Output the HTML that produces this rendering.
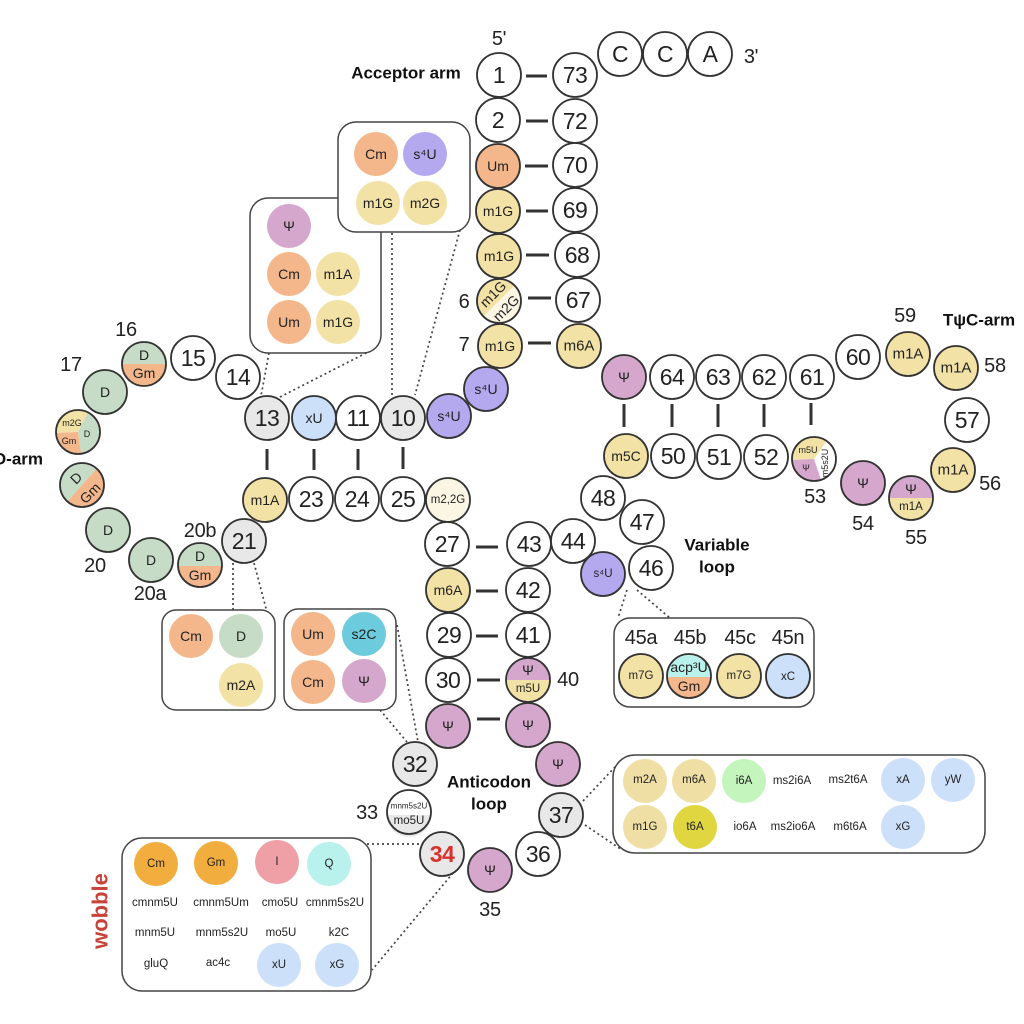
<!DOCTYPE html>
<html><head><meta charset="utf-8"><style>
html,body{margin:0;padding:0;background:#fff}
svg{display:block}
text{font-family:"Liberation Sans",sans-serif;fill:#222;text-anchor:middle;dominant-baseline:central}
.n{stroke:#333;stroke-width:1.8;fill:#fff}
.o{stroke:#333;stroke-width:1.8;fill:none}
.y{fill:#f3e2a5}.r{fill:#f4b78c}.g{fill:#c6dcc6}.p{fill:#d5a7cc}.u{fill:#b4a9ef}.e{fill:#e8e8e8}.b{fill:#cde0fa}.c{fill:#fbf6e4}
.t{font-size:23px;letter-spacing:-0.5px}.l{font-size:20px;letter-spacing:-0.3px}.m{font-size:14px}.s{font-size:11.5px}.x{font-size:9px}
.h{font-size:17px;font-weight:bold;fill:#111}
.box{fill:#fff;stroke:#444;stroke-width:1.5}
.d{stroke:#444;stroke-width:1.7;stroke-dasharray:2 3;fill:none}
.k{stroke:#333;stroke-width:3;fill:none}
</style></head><body>
<svg width="1024" height="1024" viewBox="0 0 1024 1024" xmlns="http://www.w3.org/2000/svg">
<rect width="1024" height="1024" fill="#fff"/>

<!-- dotted connectors -->
<path class="d" d="M269 353L261 396M280 397L368 352M392 233L392 396M460 230L415 395M233 563L233 610M254 563L267 612M397 625L418 742M380 710L407 742M627 590L618 618M637 590L670 618M583 801L615 767M585 825L622 850M367 844L422 844M453 873L372 970"/>

<!-- base pair lines -->
<path class="k" d="M526 76H547M526 121H548M525 166H548M526 211H548M526 255H549M528 298H551M528 343H551M267 449V470M314 449V470M358 449V470M403 447V469M476 547H498M476 591H498M476 636H498M477 680H500M477 719H500M624 404V427M672 404V427M718 404V427M764 404V427M811 403V425"/>

<!-- boxes -->
<rect class="box" x="250" y="198" width="131" height="155" rx="18"/>
<rect class="box" x="338" y="122" width="132" height="110" rx="18"/>
<rect class="box" x="162" y="610" width="113" height="100" rx="14"/>
<rect class="box" x="284" y="609" width="112" height="101" rx="14"/>
<rect class="box" x="614" y="618" width="200" height="89" rx="16"/>
<rect class="box" x="613" y="755" width="372" height="98" rx="22"/>
<rect class="box" x="122" y="838" width="249" height="153" rx="20"/>

<!-- box 1 -->
<circle class="r" cx="376" cy="154" r="22"/><text class="m" x="376" y="154">Cm</text>
<circle class="u" cx="425" cy="154" r="22"/><text class="m" x="425" y="154">s⁴U</text>
<circle class="y" cx="378" cy="203" r="22"/><text class="m" x="378" y="203">m1G</text>
<circle class="y" cx="425" cy="203" r="22"/><text class="m" x="425" y="203">m2G</text>
<!-- box 2 -->
<circle class="p" cx="289" cy="226" r="22"/><text class="m" x="289" y="226">Ψ</text>
<circle class="r" cx="289" cy="274" r="22"/><text class="m" x="289" y="274">Cm</text>
<circle class="y" cx="338" cy="274" r="22"/><text class="m" x="338" y="274">m1A</text>
<circle class="r" cx="289" cy="322" r="22"/><text class="m" x="289" y="322">Um</text>
<circle class="y" cx="338" cy="322" r="22"/><text class="m" x="338" y="322">m1G</text>
<!-- box 3 -->
<circle class="r" cx="191" cy="636" r="22"/><text class="m" x="191" y="636">Cm</text>
<circle class="g" cx="241" cy="636" r="22"/><text class="m" x="241" y="636">D</text>
<circle class="y" cx="241" cy="685" r="22"/><text class="m" x="241" y="685">m2A</text>
<!-- box 4 -->
<circle class="r" cx="313" cy="634" r="22"/><text class="m" x="313" y="634">Um</text>
<circle cx="364" cy="634" r="22" fill="#6ccbdc"/><text class="m" x="364" y="634">s2C</text>
<circle class="r" cx="313" cy="682" r="22"/><text class="m" x="313" y="682">Cm</text>
<circle class="p" cx="364" cy="681" r="22"/><text class="m" x="364" y="681">Ψ</text>
<!-- box 5 -->
<text class="l" x="641" y="638">45a</text><text class="l" x="690" y="638">45b</text><text class="l" x="740" y="638">45c</text><text class="l" x="788" y="638">45n</text>
<circle class="n y" cx="641" cy="676" r="22"/><text class="s" x="641" y="676">m7G</text>
<g transform="translate(689 676)"><path d="M-22 1A22 22 0 0 1 22 1Z" fill="#b9f1ec"/><path d="M-22 1A22 22 0 0 0 22 1Z" fill="#f4b78c"/><circle class="o" r="22"/><text class="m" y="-9">acp³U</text><text class="m" y="10">Gm</text></g>
<circle class="n y" cx="739" cy="676" r="22"/><text class="s" x="739" y="676">m7G</text>
<circle class="n b" cx="788" cy="676" r="22"/><text class="s" x="788" y="677">xC</text>
<!-- box 6 -->
<circle cx="645" cy="781" r="22" fill="#f0dfa5"/><text class="s" x="645" y="780">m2A</text>
<circle cx="694" cy="781" r="22" fill="#f0dfa5"/><text class="s" x="694" y="780">m6A</text>
<circle cx="744" cy="781" r="22" fill="#c3f5bc"/><text class="s" x="744" y="781">i6A</text>
<text class="s" x="792" y="781">ms2i6A</text><text class="s" x="848" y="780">ms2t6A</text>
<circle class="b" cx="903" cy="780" r="22"/><text class="s" x="903" y="780">xA</text>
<circle class="b" cx="953" cy="780" r="22"/><text class="s" x="953" y="780">yW</text>
<circle cx="645" cy="827" r="22" fill="#f0dfa5"/><text class="s" x="645" y="827">m1G</text>
<circle cx="695" cy="827" r="22" fill="#e0d640"/><text class="s" x="695" y="827">t6A</text>
<text class="s" x="745" y="827">io6A</text><text class="s" x="793" y="827">ms2io6A</text><text class="s" x="850" y="827">m6t6A</text>
<circle class="b" cx="903" cy="827" r="22"/><text class="s" x="903" y="827">xG</text>
<!-- box 7 -->
<circle cx="156" cy="864" r="22" fill="#f2ad3f"/><text class="s" x="156" y="864">Cm</text>
<circle cx="216" cy="863" r="22" fill="#f2ad3f"/><text class="s" x="216" y="863">Gm</text>
<circle cx="277" cy="862" r="22" fill="#eea0a6"/><text class="s" x="277" y="862">I</text>
<circle cx="329" cy="864" r="22" fill="#b9f1ec"/><text class="s" x="329" y="864">Q</text>
<text class="s" x="155" y="903">cmnm5U</text><text class="s" x="221" y="903">cmnm5Um</text><text class="s" x="280" y="903">cmo5U</text><text class="s" x="335" y="903">cmnm5s2U</text>
<text class="s" x="155" y="933">mnm5U</text><text class="s" x="222" y="933">mnm5s2U</text><text class="s" x="281" y="933">mo5U</text><text class="s" x="339" y="933">k2C</text>
<text class="s" x="156" y="964">gluQ</text><text class="s" x="218" y="963">ac4c</text>
<circle class="b" cx="279" cy="965" r="22"/><text class="s" x="279" y="965">xU</text>
<circle class="b" cx="337" cy="965" r="22"/><text class="s" x="337" y="965">xG</text>

<!-- CCA and acceptor arm -->
<circle class="n" cx="620" cy="54" r="22"/><text class="t" x="620" y="54">C</text>
<circle class="n" cx="665" cy="54" r="22"/><text class="t" x="665" y="54">C</text>
<circle class="n" cx="710" cy="54" r="22"/><text class="t" x="710" y="54">A</text>
<circle class="n" cx="499" cy="75" r="22"/><text class="t" x="499" y="75">1</text>
<circle class="n" cx="575" cy="75" r="22"/><text class="t" x="575" y="75">73</text>
<circle class="n" cx="498" cy="120" r="22"/><text class="t" x="498" y="120">2</text>
<circle class="n" cx="575" cy="121" r="22"/><text class="t" x="575" y="121">72</text>
<circle class="n r" cx="498" cy="166" r="22"/><text class="m" x="498" y="166">Um</text>
<circle class="n" cx="575" cy="165" r="22"/><text class="t" x="575" y="165">70</text>
<circle class="n y" cx="498" cy="211" r="22"/><text class="m" x="498" y="211">m1G</text>
<circle class="n" cx="575" cy="210" r="22"/><text class="t" x="575" y="210">69</text>
<circle class="n y" cx="499" cy="256" r="22"/><text class="m" x="499" y="256">m1G</text>
<circle class="n" cx="577" cy="255" r="22"/><text class="t" x="577" y="255">68</text>
<g transform="translate(499 301)"><path d="M-15.6 15.6A22 22 0 0 1 15.6 -15.6Z" class="y"/><path d="M-15.6 15.6A22 22 0 0 0 15.6 -15.6Z" class="c"/><circle class="o" r="22"/><text class="m" transform="translate(-6 -7) rotate(-45)">m1G</text><text class="m" transform="translate(7 7) rotate(-45)">m2G</text></g>
<circle class="n" cx="578" cy="300" r="22"/><text class="t" x="578" y="300">67</text>
<circle class="n y" cx="500" cy="346" r="22"/><text class="m" x="500" y="346">m1G</text>
<circle class="n y" cx="579" cy="346" r="22"/><text class="m" x="579" y="346" style="font-size:15px">m6A</text>
<circle class="n u" cx="486" cy="389" r="22"/><text class="m" x="486" y="389">s⁴U</text>
<circle class="n u" cx="449" cy="416" r="22"/><text class="m" x="449" y="416">s⁴U</text>

<!-- D arm -->
<circle class="n e" cx="403" cy="418" r="22"/><text class="t" x="403" y="418">10</text>
<circle class="n" cx="358" cy="418" r="22"/><text class="t" x="358" y="418">11</text>
<circle class="n b" cx="314" cy="418" r="22"/><text class="m" x="314" y="418">xU</text>
<circle class="n e" cx="267" cy="418" r="22"/><text class="t" x="267" y="418">13</text>
<circle class="n" cx="238" cy="377" r="22"/><text class="t" x="238" y="377">14</text>
<circle class="n" cx="193" cy="358" r="22"/><text class="t" x="193" y="358">15</text>
<g transform="translate(144 364)"><path d="M-22 0A22 22 0 0 1 22 0Z" class="g"/><path d="M-22 0A22 22 0 0 0 22 0Z" class="r"/><circle class="o" r="22"/><text class="m" y="-9">D</text><text class="m" y="9">Gm</text></g>
<circle class="n g" cx="105" cy="392" r="22"/><text class="m" x="105" y="392">D</text>
<g transform="translate(78 432)"><path d="M0 0L-22 1A22 22 0 0 1 10 -19.6Z" class="y"/><path d="M0 0L10 -19.6A22 22 0 0 1 3 21.8Z" class="g"/><path d="M0 0L3 21.8A22 22 0 0 1 -22 1Z" class="r"/><circle class="o" r="22"/><text class="x" x="-6" y="-9">m2G</text><text class="x" x="-9" y="9">Gm</text><text class="x" x="9" y="2">D</text></g>
<g transform="translate(82 485)"><path d="M-14.6 16.5A22 22 0 0 1 14.6 -16.5Z" class="g"/><path d="M-14.6 16.5A22 22 0 0 0 14.6 -16.5Z" class="r"/><circle class="o" r="22"/><text class="m" transform="translate(-6 -7) rotate(-45)">D</text><text class="m" transform="translate(8 8) rotate(-45)">Gm</text></g>
<circle class="n g" cx="108" cy="530" r="22"/><text class="m" x="108" y="530">D</text>
<circle class="n g" cx="151" cy="560" r="22"/><text class="m" x="151" y="560">D</text>
<g transform="translate(200 565)"><path d="M-22 1A22 22 0 0 1 22 1Z" class="g"/><path d="M-22 1A22 22 0 0 0 22 1Z" class="r"/><circle class="o" r="22"/><text class="m" y="-9">D</text><text class="m" y="10">Gm</text></g>
<circle class="n e" cx="244" cy="541" r="22"/><text class="t" x="244" y="541">21</text>
<circle class="n y" cx="265" cy="500" r="22"/><text class="m" x="265" y="500">m1A</text>
<circle class="n" cx="311" cy="499" r="22"/><text class="t" x="311" y="499">23</text>
<circle class="n" cx="357" cy="499" r="22"/><text class="t" x="357" y="499">24</text>
<circle class="n" cx="403" cy="499" r="22"/><text class="t" x="403" y="499">25</text>
<circle class="n c" cx="448" cy="500" r="22"/><text class="s" x="448" y="500">m2,2G</text>

<!-- anticodon arm -->
<circle class="n" cx="447" cy="544" r="22"/><text class="t" x="447" y="544">27</text>
<circle class="n" cx="529" cy="544" r="22"/><text class="t" x="529" y="544">43</text>
<circle class="n" cx="573" cy="541" r="22"/><text class="t" x="573" y="541">44</text>
<circle class="n y" cx="448" cy="590" r="22"/><text class="m" x="448" y="590">m6A</text>
<circle class="n" cx="528" cy="590" r="22"/><text class="t" x="528" y="590">42</text>
<circle class="n" cx="449" cy="635" r="22"/><text class="t" x="449" y="635">29</text>
<circle class="n" cx="528" cy="635" r="22"/><text class="t" x="528" y="635">41</text>
<circle class="n" cx="448" cy="680" r="22"/><text class="t" x="448" y="680">30</text>
<g transform="translate(528 680)"><path d="M-22 0A22 22 0 0 1 22 0Z" class="p"/><path d="M-22 0A22 22 0 0 0 22 0Z" class="y"/><circle class="o" r="22"/><text class="m" y="-10">Ψ</text><text class="s" y="9">m5U</text></g>
<circle class="n p" cx="448" cy="726" r="22"/><text class="m" x="448" y="726">Ψ</text>
<circle class="n p" cx="528" cy="725" r="22"/><text class="m" x="528" y="725">Ψ</text>
<circle class="n p" cx="558" cy="764" r="22"/><text class="m" x="558" y="764">Ψ</text>
<circle class="n e" cx="561" cy="815" r="22"/><text class="t" x="561" y="815">37</text>
<circle class="n" cx="538" cy="854" r="22"/><text class="t" x="538" y="854">36</text>
<circle class="n p" cx="490" cy="870" r="22"/><text class="m" x="490" y="870">Ψ</text>
<circle class="n e" cx="442" cy="854" r="22"/><text class="t" x="442" y="854" style="fill:#d8322c;font-weight:bold">34</text>
<g transform="translate(409 812)"><path d="M-22 3A22 22 0 0 0 22 3Z" class="e"/><circle class="o" r="22"/><text y="-6" style="font-size:8px">mnm5s2U</text><text class="s" y="9">mo5U</text></g>
<circle class="n e" cx="415" cy="764" r="22"/><text class="t" x="415" y="764">32</text>

<!-- variable loop -->
<circle class="n" cx="603" cy="498" r="22"/><text class="t" x="603" y="498">48</text>
<circle class="n" cx="642" cy="522" r="22"/><text class="t" x="642" y="522">47</text>
<circle class="n" cx="651" cy="568" r="22"/><text class="t" x="651" y="568">46</text>
<circle class="n u" cx="603" cy="574" r="22"/><text class="s" x="603" y="574">s⁴U</text>

<!-- TψC arm -->
<circle class="n p" cx="624" cy="377" r="22"/><text class="m" x="624" y="377">Ψ</text>
<circle class="n" cx="672" cy="377" r="22"/><text class="t" x="672" y="377">64</text>
<circle class="n" cx="718" cy="377" r="22"/><text class="t" x="718" y="377">63</text>
<circle class="n" cx="764" cy="377" r="22"/><text class="t" x="764" y="377">62</text>
<circle class="n" cx="812" cy="377" r="22"/><text class="t" x="812" y="377">61</text>
<circle class="n" cx="858" cy="357" r="22"/><text class="t" x="858" y="357">60</text>
<circle class="n y" cx="908" cy="354" r="22"/><text class="m" x="908" y="354" style="font-size:15px">m1A</text>
<circle class="n y" cx="956" cy="368" r="22"/><text class="m" x="956" y="368" style="font-size:15px">m1A</text>
<circle class="n" cx="967" cy="420" r="22"/><text class="t" x="967" y="420">57</text>
<circle class="n y" cx="953" cy="470" r="22"/><text class="m" x="953" y="470" style="font-size:15px">m1A</text>
<g transform="translate(911 498)"><path d="M-22 0A22 22 0 0 1 22 0Z" class="p"/><path d="M-22 0A22 22 0 0 0 22 0Z" class="y"/><circle class="o" r="22"/><text class="m" y="-9">Ψ</text><text class="s" y="9">m1A</text></g>
<circle class="n p" cx="863" cy="483" r="22"/><text class="m" x="863" y="483">Ψ</text>
<g transform="translate(814 459)"><path d="M0 0L-22 1A22 22 0 0 1 12.6 -18Z" class="y"/><path d="M0 0L7 20.8A22 22 0 0 1 -22 1Z" class="p"/><circle class="o" r="22"/><text class="x" x="-6" y="-9">m5U</text><text class="x" x="-8" y="9">Ψ</text><text class="x" transform="translate(11 4) rotate(-90)">m5s2U</text></g>
<circle class="n" cx="766" cy="457" r="22"/><text class="t" x="766" y="457">52</text>
<circle class="n" cx="719" cy="457" r="22"/><text class="t" x="719" y="457">51</text>
<circle class="n" cx="673" cy="456" r="22"/><text class="t" x="673" y="456">50</text>
<circle class="n y" cx="626" cy="456" r="22"/><text class="m" x="626" y="456">m5C</text>

<!-- labels -->
<text class="l" x="499" y="39">5'</text>
<text class="l" x="751" y="57">3'</text>
<text class="h" x="406" y="73">Acceptor arm</text>
<text class="l" x="464" y="302">6</text>
<text class="l" x="464" y="345">7</text>
<text class="l" x="126" y="330">16</text>
<text class="l" x="71" y="365">17</text>
<text class="h" x="43" y="459" style="text-anchor:end">D-arm</text>
<text class="l" x="200" y="531">20b</text>
<text class="l" x="95" y="566">20</text>
<text class="l" x="150" y="594">20a</text>
<text class="l" x="815" y="497">53</text>
<text class="l" x="863" y="524">54</text>
<text class="l" x="916" y="538">55</text>
<text class="l" x="990" y="484">56</text>
<text class="l" x="995" y="366">58</text>
<text class="l" x="905" y="316">59</text>
<text class="h" x="979" y="320">TψC-arm</text>
<text class="h" x="717" y="545">Variable</text>
<text class="h" x="717" y="567">loop</text>
<text class="h" x="489" y="782">Anticodon</text>
<text class="h" x="489" y="804">loop</text>
<text class="l" x="367" y="813">33</text>
<text class="l" x="490" y="910">35</text>
<text class="l" x="568" y="680">40</text>
<text x="100" y="911" transform="rotate(-90 100 911)" style="font-size:22px;font-weight:bold;fill:#c8423a">wobble</text>
</svg>
</body></html>
